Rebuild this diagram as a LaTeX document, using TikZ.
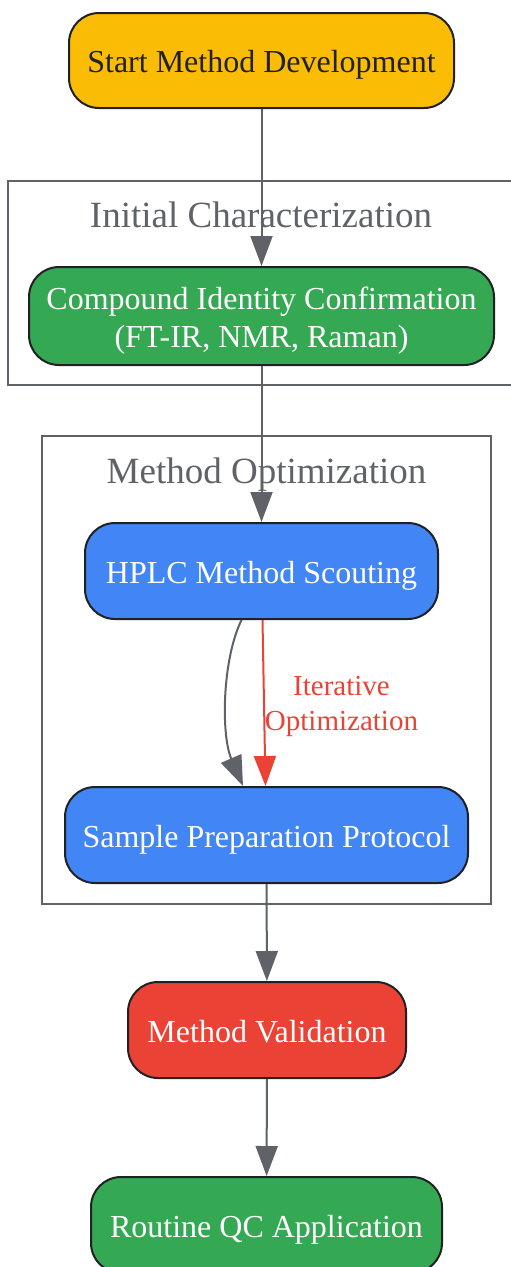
\documentclass[tikz,border=0pt]{standalone}
\usepackage{fontspec}
\setmainfont{Liberation Serif}
\usetikzlibrary{arrows.meta,calc}
\definecolor{cy}{HTML}{FBBC05}
\definecolor{cg}{HTML}{34A853}
\definecolor{cb}{HTML}{4285F4}
\definecolor{cr}{HTML}{EA4335}
\definecolor{gr}{HTML}{5F6368}
\definecolor{bd}{HTML}{202124}
\begin{document}
\begin{tikzpicture}[x=1pt,y=-1pt,
  box/.style={draw=bd, line width=2pt, rounded corners=30pt, text=white, inner sep=0pt,
    text height=28pt, text depth=4pt, font=\fontsize{32}{38.7}\selectfont},
  cluster/.style={draw=gr, line width=2pt},
  ctitle/.style={text=gr, anchor=base, inner sep=0pt, font=\fontsize{37}{44}\selectfont},
  arr/.style={color=gr, line width=2pt, -{Triangle[length=30pt,width=22pt]}},
  elabel/.style={text=cr, anchor=base, inner sep=0pt, font=\fontsize{29}{35.7}\selectfont}]
\useasboundingbox (0,0) rectangle (511,1267);
\clip (0,0) rectangle (511,1267);
\fill[white] (0,0) rectangle (511,1267);
% clusters
\draw[cluster] (8,181) rectangle (530,385);
\node[ctitle] (t1) at (261,227.7) {Initial Characterization};
\draw[cluster] (42,436) rectangle (491,904);
\node[ctitle] (t2) at (266.5,483) {Method Optimization};
% nodes
\node[box, fill=cy, text=bd, minimum width=385pt, minimum height=95pt] (start) at (261.5,60.5) {Start Method Development};
\node[box, fill=cg, minimum width=465pt, minimum height=98pt, text height=67.4pt, text depth=4pt] (cic) at (261.5,316)
  {\begin{tabular}[b]{@{}c@{}}Compound Identity Confirmation\\(FT-IR, NMR, Raman)\end{tabular}};
\node[box, fill=cb, minimum width=353pt, minimum height=96pt] (hplc) at (261.5,571) {HPLC Method Scouting};
\node[box, fill=cb, minimum width=403pt, minimum height=96pt] (spp) at (266.5,835) {Sample Preparation Protocol};
\node[box, fill=cr, minimum width=278pt, minimum height=96pt] (mv) at (267,1030) {Method Validation};
\node[box, fill=cg, minimum width=351pt, minimum height=96pt] (qc) at (266.5,1225) {Routine QC Application};
% edges
\draw[arr] (start) -- (cic);
\draw[arr] (cic) -- (hplc);
\draw[arr] ($(hplc.south)+(-20,0)$) .. controls (222,660) and (221,735) .. ($(spp.north)+(-23.5,0)$);
\draw[arr, color=cr] ($(hplc.south)+(1,0)$) -- ($(spp.north)+(-1,0)$);
\node[elabel] (lbl) at (341.5,730.7) {\begin{tabular}[b]{@{}c@{}}Iterative\\Optimization\end{tabular}};
\draw[arr] (spp) -- (mv);
\draw[arr] (mv) -- (qc);
\end{tikzpicture}
\end{document}
